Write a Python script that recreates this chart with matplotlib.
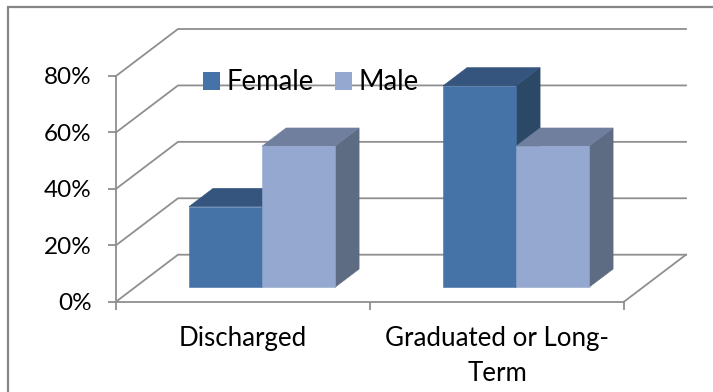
import matplotlib
matplotlib.use("Agg")
import matplotlib.pyplot as plt
from matplotlib.lines import Line2D
from matplotlib.patches import Polygon, Patch

# Chart data
categories = ["Discharged", "Graduated or Long-\nTerm"]
female = [28.6, 71.4]
male = [50, 50]
y_ticks = [0, 20, 40, 60, 80]
y_tick_labels = ["0%", "20%", "40%", "60%", "80%"]

W, H = 713, 392
GRAY = "#8f8f8f"
FEMALE_FACES = ("#4572a7", "#35557e", "#2c4867")
MALE_FACES = ("#95a9d0", "#707f9e", "#5d6b83")

plt.rcParams["font.family"] = ["Lato", "DejaVu Sans"]
fig = plt.figure(figsize=(W / 100, H / 100), dpi=100, facecolor="white")

# Plot area of the front plane, in pixels
left, right, top, bottom = 116, 624, 76, 301.7
ax = fig.add_axes([left / W, 1 - bottom / H, (right - left) / W, (bottom - top) / H])
ax.set_xlim(0, len(categories))
ax.set_ylim(0, 80)
ax.patch.set_visible(False)

# Oblique depth of the floor, in data units
DEPTH_X = 62 / ((right - left) / 2)
DEPTH_Y = 47 / ((bottom - top) / 80)
BAR_NEAR, BAR_FAR = 0.306, 0.695
BAR_WIDTH = 0.2874


def project(x, v, d):
    return x + d * DEPTH_X, v + d * DEPTH_Y


def draw_bar(x0, x1, value, faces, z):
    near = BAR_NEAR
    far = BAR_FAR
    front = [project(x0, 0, near), project(x1, 0, near), project(x1, value, near), project(x0, value, near)]
    roof = [project(x0, value, near), project(x1, value, near), project(x1, value, far), project(x0, value, far)]
    side = [project(x1, 0, near), project(x1, 0, far), project(x1, value, far), project(x1, value, near)]
    for pts, color in zip((side, roof, front), (faces[2], faces[1], faces[0])):
        ax.add_patch(Polygon(pts, closed=True, facecolor=color, edgecolor=color,
                             linewidth=0.4, clip_on=False, zorder=z))


# Gridlines run along the side wall, then across the back wall
for v in y_ticks:
    xs = [0, project(0, v, 1)[0], len(categories) + DEPTH_X]
    ys = [v, v + DEPTH_Y, v + DEPTH_Y]
    ax.plot(xs, ys, color=GRAY, lw=1.3, clip_on=False, zorder=1, solid_joinstyle="miter")

# Right edge of the floor
ax.plot([len(categories), len(categories) + DEPTH_X], [0, DEPTH_Y], color=GRAY, lw=1.3,
        clip_on=False, zorder=1)

# Bars, left to right so the nearer faces overlap correctly
for i, (f, m) in enumerate(zip(female, male)):
    draw_bar(i + 0.5 - BAR_WIDTH, i + 0.5, f, FEMALE_FACES, 3 + i)
    draw_bar(i + 0.5, i + 0.5 + BAR_WIDTH, m, MALE_FACES, 3.5 + i)

# Axes and ticks
for name in ("top", "right"):
    ax.spines[name].set_visible(False)
for name in ("left", "bottom"):
    ax.spines[name].set_color(GRAY)
    ax.spines[name].set_linewidth(1.3)
    ax.spines[name].set_zorder(2)

ax.set_yticks(y_ticks, y_tick_labels)
ax.set_xticks(range(len(categories) + 1), [""] * (len(categories) + 1))
ax.set_xticks([i + 0.5 for i in range(len(categories))], categories, minor=True)
ax.tick_params(axis="y", length=6, width=1.3, color=GRAY, labelsize=17.5, pad=11.5, labelcolor="black")
ax.tick_params(axis="x", which="major", length=6, width=1.3, color=GRAY)
ax.tick_params(axis="x", which="minor", length=0, labelsize=18.6, pad=17.5, labelcolor="black")
for label in ax.get_xticklabels(minor=True):
    label.set_linespacing(1.5)

# Legend laid over the back wall
handles = [Patch(facecolor=FEMALE_FACES[0], label="Female"), Patch(facecolor=MALE_FACES[0], label="Male")]
ax.legend(handles=handles, loc="center left",
          bbox_to_anchor=((203 - left) / (right - left), (bottom - 82.5) / (bottom - top)),
          ncol=2, frameon=False, fontsize=19.8, handlelength=0.62, handleheight=0.62,
          handletextpad=0.22, columnspacing=0.8, borderpad=0, borderaxespad=0).set_zorder(2)

# Outer chart frame: top and left edges
frame_x, frame_y = 8, 6.8
fig.add_artist(Line2D([frame_x / W, frame_x / W, 1], [0, 1 - frame_y / H, 1 - frame_y / H],
                      color="#868686", lw=1.6, solid_joinstyle="miter"))

fig.savefig("out.png", dpi=100, facecolor="white")
